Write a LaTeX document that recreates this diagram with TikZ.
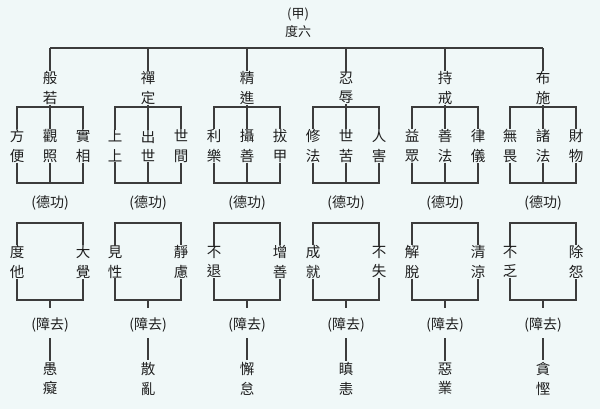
\documentclass[tikz,border=0pt]{standalone}
\usepackage{fontspec}
\newfontfamily\cjk{Noto Sans CJK TC}
\definecolor{bgc}{HTML}{F0F8F8}
\definecolor{lnc}{HTML}{3C3C3C}
\definecolor{txc}{HTML}{1E1E1E}
\tikzset{
  vtext/.style={inner sep=0pt, align=center, text=txc, font=\cjk\fontsize{14.5}{19.5}\selectfont},
  htext/.style={inner sep=0pt, align=center, text=txc, font=\cjk\fontsize{14}{18}\selectfont},
  ttext/.style={inner sep=0pt, align=center, text=txc, font=\cjk\fontsize{13}{18}\selectfont},
  conn/.style={draw=lnc, line width=1.3pt}
}
\newcommand\pgroup[9]{%
  \node[vtext] (g#1) at (#2,88) {#3};
  \node[vtext] (a#1) at (#2-33,146) {#4};
  \node[vtext] (b#1) at (#2,146) {#5};
  \node[vtext] (c#1) at (#2+33,146) {#6};
  \node[htext] (d#1) at (#2,203) {(德功)};
  \node[vtext] (l#1) at (#2-33,262) {#7};
  \node[vtext] (r#1) at (#2+33,262) {#8};
  \node[htext] (z#1) at (#2,325) {(障去)};
  \node[vtext] (w#1) at (#2,379) {#9};
  \coordinate (ub#1) at (#2,107);
  \coordinate (lb#1) at (#2,183);
  \coordinate (bt#1) at (#2,223);
  \coordinate (bb#1) at (#2,300);
  \coordinate (st#1) at (#2,308);
  \draw[conn] (g#1.north) -- (g#1.north |- bar);
  \draw[conn] (g#1.south) -- (b#1.north);
  \draw[conn] (a#1.north) |- (ub#1) -| (c#1.north);
  \draw[conn] (a#1.south) |- (lb#1) -| (c#1.south);
  \draw[conn] (b#1.south) -- (lb#1);
  \draw[conn] (l#1.north) |- (bt#1) -| (r#1.north);
  \draw[conn] (l#1.south) |- (bb#1) -| (r#1.south);
  \draw[conn] (bb#1) -- (st#1);
  \draw[conn, shorten <=6pt, shorten >=2pt] (z#1.south) -- (w#1.north);
}
\begin{document}
\begin{tikzpicture}[x=1pt,y=-1pt]
\fill[bgc] (0,0) rectangle (600,409);
\useasboundingbox (0,0) rectangle (600,409);
\coordinate (bar) at (0,48);
\node[ttext] (t) at (298,23) {(甲)\\度六};
\pgroup{1}{50}{般\\若}{方\\便}{觀\\照}{實\\相}{度\\他}{大\\覺}{愚\\癡}
\pgroup{2}{148}{禪\\定}{上\\上}{出\\世}{世\\間}{見\\性}{靜\\慮}{散\\亂}
\pgroup{3}{247}{精\\進}{利\\樂}{攝\\善}{拔\\甲}{不\\退}{增\\善}{懈\\怠}
\pgroup{4}{346}{忍\\辱}{修\\法}{世\\苦}{人\\害}{成\\就}{不\\失}{瞋\\恚}
\pgroup{5}{445}{持\\戒}{益\\眾}{善\\法}{律\\儀}{解\\脫}{清\\涼}{惡\\業}
\pgroup{6}{543}{布\\施}{無\\畏}{諸\\法}{財\\物}{不\\乏}{除\\怨}{貪\\慳}
\draw[conn] (g1.north |- bar) -- (g6.north |- bar);
\end{tikzpicture}
\end{document}
